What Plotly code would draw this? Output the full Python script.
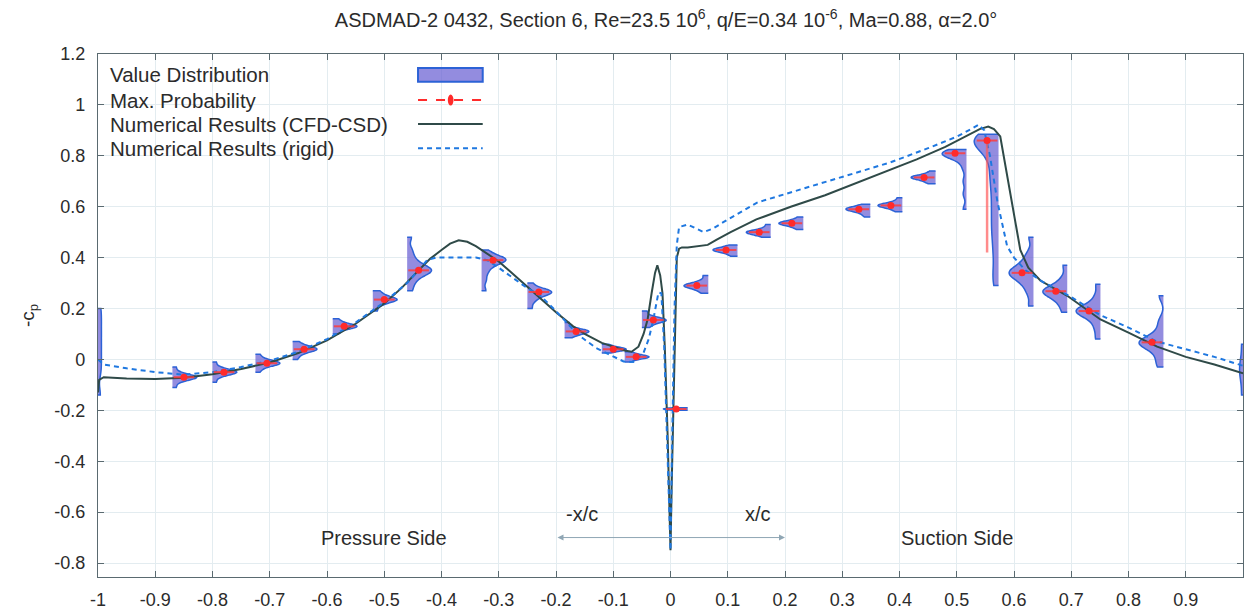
import plotly.graph_objects as go

# ---------------- data ----------------
# CFD-CSD (solid) pressure side (-x/c) and suction side (x/c)
cfd_x = [-1.0, -0.998, -0.99, -0.95, -0.9, -0.85, -0.8, -0.75, -0.7, -0.65, -0.6, -0.55, -0.5,
         -0.47, -0.44, -0.42, -0.40, -0.385, -0.37, -0.355, -0.34, -0.32, -0.30, -0.28, -0.25,
         -0.227, -0.2, -0.17, -0.15, -0.12, -0.1, -0.08, -0.068, -0.056, -0.047, -0.04, -0.033,
         -0.027, -0.023, -0.018, -0.014, -0.01, -0.005, -0.002, 0.0,
         0.002, 0.004, 0.008, 0.011, 0.015, 0.02, 0.03, 0.05, 0.065, 0.08, 0.105, 0.15, 0.21,
         0.27, 0.327, 0.38, 0.43, 0.48, 0.52, 0.54, 0.555, 0.565, 0.576, 0.611, 0.625, 0.646,
         0.693, 0.751, 0.8, 0.85, 0.9, 0.95, 1.0]
cfd_cp = [-0.13, -0.08, -0.07, -0.075, -0.077, -0.072, -0.058, -0.038, -0.012, 0.025, 0.075, 0.14, 0.22,
          0.28, 0.35, 0.395, 0.43, 0.455, 0.468, 0.462, 0.445, 0.415, 0.385, 0.345, 0.285,
          0.24, 0.185, 0.13, 0.1, 0.065, 0.05, 0.035, 0.03, 0.05, 0.1, 0.157, 0.26,
          0.34, 0.37, 0.33, 0.26, 0.05, -0.3, -0.6, -0.75,
          -0.5, -0.3, 0.2, 0.4, 0.435, 0.44, 0.44, 0.445, 0.45, 0.47, 0.50, 0.55, 0.60,
          0.645, 0.695, 0.74, 0.786, 0.835, 0.88, 0.905, 0.915, 0.905, 0.876, 0.43, 0.36, 0.31,
          0.25, 0.157, 0.105, 0.05, 0.01, -0.02, -0.055]

# rigid (dashed)
rig_x = [-1.0, -0.99, -0.95, -0.9, -0.85, -0.8, -0.75, -0.7, -0.65, -0.6, -0.55, -0.5, -0.46,
         -0.44, -0.425, -0.41, -0.37, -0.34, -0.32, -0.3, -0.25, -0.227, -0.2, -0.162, -0.13,
         -0.1, -0.082, -0.065, -0.047, -0.038, -0.03, -0.021, -0.016, -0.011, -0.006, -0.002, 0.0,
         0.003, 0.007, 0.011, 0.015, 0.03, 0.045, 0.058, 0.075, 0.093, 0.152, 0.21, 0.297,
         0.384, 0.45, 0.5, 0.525, 0.538, 0.548, 0.558, 0.571, 0.588, 0.6, 0.62, 0.65, 0.7,
         0.75, 0.8, 0.85, 0.9, 0.95, 1.0]
rig_cp = [0.0, -0.02, -0.035, -0.05, -0.06, -0.05, -0.03, -0.005, 0.03, 0.08, 0.145, 0.225, 0.3,
          0.35, 0.39, 0.40, 0.40, 0.40, 0.39, 0.36, 0.28, 0.25, 0.19, 0.098, 0.045,
          0.012, -0.008, -0.01, 0.027, 0.08, 0.157, 0.263, 0.26, 0.05, -0.3, -0.6, -0.75,
          -0.3, 0.2, 0.45, 0.52, 0.53, 0.515, 0.50, 0.515, 0.54, 0.617, 0.656, 0.715,
          0.774, 0.83, 0.875, 0.905, 0.922, 0.9, 0.8, 0.62, 0.445, 0.40, 0.35, 0.305, 0.245,
          0.175, 0.125, 0.07, 0.04, 0.01, -0.025]

# value distributions: sensor (violin baseline) positions and sampled -cp values
sensor_x = [-1.0, -0.87, -0.80, -0.725, -0.66, -0.59, -0.52, -0.46, -0.33, -0.25, -0.185, -0.12,
            -0.08, -0.05,
            0.03, 0.066, 0.117, 0.175, 0.232, 0.349, 0.405, 0.463, 0.517, 0.573, 0.634, 0.693,
            0.751, 0.861, 1.0]
mode_cp = [None, -0.07, -0.05, -0.015, 0.04, 0.13, 0.235, 0.35, 0.39, 0.265, 0.11, 0.04,
           0.01, 0.155,
           -0.195, 0.29, 0.43, 0.50, 0.535, 0.59, 0.605, 0.715, 0.81, 0.86, 0.34, 0.268,
           0.19, 0.067, None]

s_le = [-0.14, -0.05, 0.0, 0.05, 0.1, 0.15, 0.2]
s_p1 = [-0.11, -0.09, -0.08, -0.075, -0.072, -0.07, -0.07, -0.068, -0.065, -0.06, -0.05, -0.03]
s_p2 = [-0.09, -0.07, -0.06, -0.055, -0.052, -0.05, -0.05, -0.048, -0.045, -0.04, -0.03, -0.01]
s_p3 = [-0.05, -0.035, -0.025, -0.02, -0.017, -0.015, -0.015, -0.013, -0.01, -0.005, 0.005, 0.02]
s_p4 = [0.0, 0.015, 0.025, 0.033, 0.037, 0.04, 0.04, 0.042, 0.045, 0.05, 0.06, 0.07]
s_p5 = [0.1, 0.11, 0.12, 0.125, 0.128, 0.13, 0.13, 0.132, 0.135, 0.14, 0.15, 0.16]
s_p6 = [0.19, 0.21, 0.22, 0.228, 0.232, 0.235, 0.235, 0.238, 0.242, 0.25, 0.26, 0.27]
s_p7 = [0.27, 0.3, 0.32, 0.335, 0.345, 0.35, 0.35, 0.355, 0.365, 0.38, 0.4, 0.43, 0.48]
s_p8 = [0.27, 0.31, 0.34, 0.36, 0.375, 0.385, 0.39, 0.39, 0.395, 0.4, 0.41, 0.43]
s_p9 = [0.2, 0.225, 0.24, 0.25, 0.258, 0.263, 0.265, 0.267, 0.272, 0.28, 0.3]
s_p10 = [0.085, 0.095, 0.102, 0.107, 0.11, 0.11, 0.112, 0.116, 0.125, 0.145]
s_p11 = [0.025, 0.032, 0.036, 0.039, 0.04, 0.04, 0.042, 0.046, 0.052, 0.06]
s_p12 = [-0.01, 0.0, 0.005, 0.008, 0.01, 0.01, 0.012, 0.016, 0.022, 0.03]
s_p13 = [0.125, 0.135, 0.145, 0.15, 0.154, 0.155, 0.157, 0.162, 0.172, 0.19]
s_s0 = [-0.2, -0.197, -0.196, -0.195, -0.195, -0.194, -0.192, -0.19]
s_s1 = [0.26, 0.272, 0.28, 0.286, 0.29, 0.29, 0.293, 0.3, 0.31, 0.33]
s_s2 = [0.405, 0.415, 0.422, 0.427, 0.43, 0.43, 0.432, 0.436, 0.442, 0.45]
s_s3 = [0.48, 0.487, 0.493, 0.497, 0.5, 0.5, 0.502, 0.506, 0.515, 0.53]
s_s4 = [0.51, 0.52, 0.527, 0.532, 0.535, 0.535, 0.537, 0.541, 0.548, 0.56]
s_s5 = [0.56, 0.572, 0.58, 0.586, 0.59, 0.59, 0.592, 0.596, 0.602, 0.61]
s_s6 = [0.58, 0.59, 0.597, 0.602, 0.605, 0.605, 0.607, 0.612, 0.62, 0.635]
s_s7 = [0.69, 0.699, 0.706, 0.712, 0.715, 0.715, 0.717, 0.721, 0.728, 0.74]
s_s8 = [0.59, 0.65, 0.7, 0.75, 0.78, 0.795, 0.803, 0.808, 0.81, 0.81, 0.812, 0.815, 0.825]
s_s9 = [0.29, 0.35, 0.42, 0.48, 0.53, 0.58, 0.63, 0.68, 0.72, 0.76, 0.8, 0.83, 0.85, 0.86,
        0.86, 0.865, 0.875, 0.885]
s_s10 = [0.21, 0.26, 0.29, 0.31, 0.325, 0.335, 0.34, 0.345, 0.355, 0.37, 0.39, 0.42, 0.48]
s_s11 = [0.185, 0.215, 0.235, 0.25, 0.26, 0.265, 0.268, 0.272, 0.28, 0.295, 0.32, 0.37]
s_s12 = [0.08, 0.12, 0.15, 0.17, 0.182, 0.188, 0.19, 0.195, 0.205, 0.22, 0.25, 0.295]
s_s13 = [-0.03, 0.0, 0.03, 0.05, 0.06, 0.065, 0.067, 0.072, 0.085, 0.11, 0.15, 0.25]
s_te = [-0.14, -0.08, -0.05, -0.03, 0.0, 0.06]

samples = [s_le, s_p1, s_p2, s_p3, s_p4, s_p5, s_p6, s_p7, s_p8, s_p9, s_p10, s_p11, s_p12, s_p13,
           s_s0, s_s1, s_s2, s_s3, s_s4, s_s5, s_s6, s_s7, s_s8, s_s9, s_s10, s_s11, s_s12, s_s13,
           s_te]

x_ticks = [-1, -0.9, -0.8, -0.7, -0.6, -0.5, -0.4, -0.3, -0.2, -0.1, 0, 0.1, 0.2, 0.3, 0.4, 0.5,
           0.6, 0.7, 0.8, 0.9, 1]
y_ticks = [-0.8, -0.6, -0.4, -0.2, 0, 0.2, 0.4, 0.6, 0.8, 1, 1.2]

title_text = ("ASDMAD-2 0432, Section 6, Re=23.5 10<sup>6</sup>, q/E=0.34 10<sup>-6</sup>, "
              "Ma=0.88, α=2.0°")

# ---------------- styles ----------------
FONT = "Liberation Sans, Arial, sans-serif"
TXT = "#2b2b2b"
VIO_FILL = "rgba(105,95,210,0.72)"
VIO_LINE = "#2c62d6"
RED = "#ff2b2b"
SOLID = "#2f4a48"
DASH = "#1f78e0"
# kernel bandwidth used for each violin (style)
vio_bw = [0.03, 0.01, 0.01, 0.01, 0.01, 0.009, 0.01, 0.018, 0.015, 0.012, 0.009, 0.007,
          0.007, 0.009,
          0.004, 0.009, 0.008, 0.008, 0.008, 0.008, 0.008, 0.008, 0.018, 0.04, 0.022, 0.02,
          0.02, 0.022, 0.03]

fig = go.Figure()

for xs, smp, bw in zip(sensor_x, samples, vio_bw):
    side = "positive" if xs < 0 else "negative"
    w = 0.085
    if xs in (-1.0, 1.0):
        w = 0.012
    fig.add_trace(go.Violin(
        x=[xs] * len(smp), y=smp, side=side, width=w, spanmode="hard", bandwidth=bw,
        points=False, fillcolor=VIO_FILL, line=dict(color=VIO_LINE, width=1.5),
        meanline_visible=False, box_visible=False, showlegend=False, hoverinfo="skip",
        scalemode="width", orientation="v",
    ))

fig.add_trace(go.Scatter(x=cfd_x, y=cfd_cp, mode="lines",
                         line=dict(color=SOLID, width=2), showlegend=False))
fig.add_trace(go.Scatter(x=rig_x, y=rig_cp, mode="lines",
                         line=dict(color=DASH, width=2, dash="5px,4px"), showlegend=False))

# max probability markers
mp_x, mp_y, mp_ey = [], [], []
for xs, m in zip(sensor_x, mode_cp):
    if m is None:
        continue
    off = 0.02 if xs < 0 else -0.02
    mp_x.append(xs + off)
    mp_y.append(m)
    mp_ey.append(0.44 if abs(xs - 0.573) < 1e-6 else 0.0)
fig.add_trace(go.Scatter(
    x=mp_x, y=mp_y, mode="markers",
    marker=dict(color=RED, size=7, line=dict(width=0)),
    error_x=dict(type="constant", value=0.018, color="rgba(255,60,60,0.85)", thickness=2, width=0),
    error_y=dict(type="data", symmetric=False, array=[0] * len(mp_ey), arrayminus=mp_ey,
                 color="rgba(255,90,90,0.7)", thickness=2.5, width=0),
    showlegend=False))

# ---------------- legend (gnuplot style: text left, key right) ----------------
leg_labels = ["Value Distribution", "Max. Probability", "Numerical Results (CFD-CSD)",
              "Numerical Results (rigid)"]
leg_y = [0.960, 0.912, 0.866, 0.820]
annotations = []
shapes = []
for lab, yy in zip(leg_labels, leg_y):
    annotations.append(dict(x=0.009, y=yy, xref="paper", yref="paper", text=lab, showarrow=False,
                            xanchor="left", yanchor="middle",
                            font=dict(family=FONT, size=20.5, color=TXT)))
kx0, kx1 = 0.2795, 0.336
shapes.append(dict(type="rect", xref="paper", yref="paper", x0=kx0, x1=kx1, y0=0.947, y1=0.973,
                   fillcolor=VIO_FILL, line=dict(color=VIO_LINE, width=2)))
shapes.append(dict(type="line", xref="paper", yref="paper", x0=kx0, x1=kx1, y0=leg_y[1], y1=leg_y[1],
                   line=dict(color=RED, width=2, dash="dash")))
shapes.append(dict(type="circle", xref="paper", yref="paper", x0=0.3055, x1=0.3105,
                   y0=leg_y[1] - 0.0105, y1=leg_y[1] + 0.0105, fillcolor=RED, line=dict(width=0)))
shapes.append(dict(type="line", xref="paper", yref="paper", x0=kx0, x1=kx1, y0=leg_y[2], y1=leg_y[2],
                   line=dict(color=SOLID, width=2)))
shapes.append(dict(type="line", xref="paper", yref="paper", x0=kx0, x1=kx1, y0=leg_y[3], y1=leg_y[3],
                   line=dict(color=DASH, width=2, dash="5px,4px")))

# side labels and arrow
annotations += [
    dict(x=-0.5, y=-0.703, text="Pressure Side", showarrow=False,
         font=dict(family=FONT, size=20, color=TXT)),
    dict(x=0.5, y=-0.703, text="Suction Side", showarrow=False,
         font=dict(family=FONT, size=20, color=TXT)),
    dict(x=-0.155, y=-0.609, text="-x/c", showarrow=False,
         font=dict(family=FONT, size=20, color=TXT)),
    dict(x=0.152, y=-0.609, text="x/c", showarrow=False,
         font=dict(family=FONT, size=20, color=TXT)),
    dict(x=0.2, y=-0.70, ax=-0.2, ay=-0.70, xref="x", yref="y", axref="x", ayref="y",
         text="", showarrow=True, arrowside="end+start", arrowhead=2, arrowsize=1.2,
         arrowwidth=1, arrowcolor="#8fa6b4"),
]

axis_common = dict(showgrid=True, gridcolor="#e3ecf0", gridwidth=1, zeroline=False,
                   showline=True, linecolor="#5a6a70", linewidth=1.2, mirror="ticks",
                   ticks="inside", ticklen=6, tickcolor="#5a6a70", automargin=False,
                   tickfont=dict(family=FONT, size=18, color=TXT))

fig.update_layout(
    width=1245, height=613,
    margin=dict(l=98, r=2, t=54, b=36, autoexpand=False),
    paper_bgcolor="white", plot_bgcolor="white",
    title=dict(text=title_text, x=0.535, xanchor="center", y=0.967, yanchor="middle",
               font=dict(family=FONT, size=20, color=TXT), automargin=False),
    xaxis=dict(range=[-1, 1], tickvals=x_ticks, ticktext=[f"{v:g}" for v in x_ticks],
               ticklabelstandoff=6, **axis_common),
    yaxis=dict(range=[-0.855, 1.2], tickvals=y_ticks, ticktext=[f"{v:g}" for v in y_ticks],
               ticklabelstandoff=8,
               title=dict(text="-c<sub>p</sub>", font=dict(family=FONT, size=19, color=TXT),
                          standoff=14),
               **axis_common),
    showlegend=False,
    annotations=annotations, shapes=shapes,
    violinmode="overlay", violingap=0, violingroupgap=0,
)

# remove the default page margin so the 1245x613 figure fills the window exactly
fig.write_html("out.html", config={"displayModeBar": False},
               post_script="document.body.style.margin='0px';document.body.style.overflow='hidden';")
